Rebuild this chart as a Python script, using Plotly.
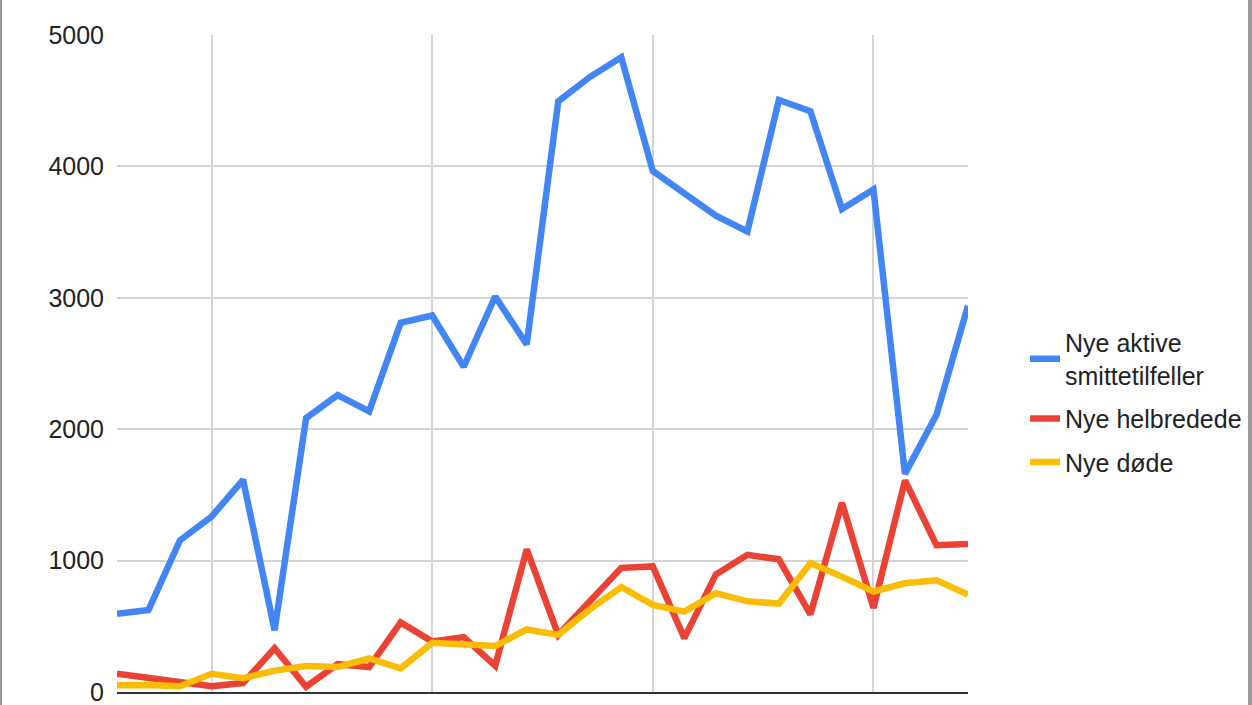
import plotly.graph_objects as go

# 28 days, the x labels are cut off in the picture so plain day labels are used
DAYS = [
    "1", "2", "3", "4", "5", "6", "7", "8", "9", "10", "11", "12", "13", "14",
    "15", "16", "17", "18", "19", "20", "21", "22", "23", "24", "25", "26", "27", "28",
]
GRID_DAYS = ["4", "11", "18", "25"]

NEW_ACTIVE = [
    595, 625, 1155, 1335, 1615, 470, 2085, 2260, 2135, 2810, 2865, 2475, 3010, 2645,
    4495, 4680, 4830, 3965, 3795, 3625, 3505, 4505, 4420, 3675, 3825, 1660, 2110, 2940,
]
NEW_RECOVERED = [
    140, 112, 72, 44, 68, 333, 40, 212, 190, 530, 384, 418, 200, 1085,
    435, 690, 945, 956, 410, 895, 1044, 1010, 590, 1440, 640, 1610, 1117, 1126,
]
NEW_DEAD = [
    51, 54, 44, 139, 105, 163, 197, 190, 255, 180, 374, 357, 350, 476,
    435, 629, 799, 663, 612, 752, 690, 673, 980, 878, 765, 827, 850, 741,
]

SERIES = [
    ("Nye aktive<br>smittetilfeller", NEW_ACTIVE, "#4285F4"),
    ("Nye helbredede", NEW_RECOVERED, "#EA4335"),
    ("Nye døde", NEW_DEAD, "#FBBC04"),
]

fig = go.Figure()
for i, (name, values, color) in enumerate(SERIES):
    fig.add_trace(
        go.Scatter(
            x=DAYS,
            y=values,
            mode="lines",
            name=name,
            legendgroup=f"g{i}",
            line=dict(color=color, width=6.5),
        )
    )

# thin grey frame on the left and right edge of the picture
for x0, x1 in [(-117 / 851, -115 / 851), (1131 / 851, 1135 / 851)]:
    fig.add_shape(
        type="rect", xref="paper", yref="paper",
        x0=x0, x1=x1, y0=-13 / 657, y1=35 / 657 + 1,
        fillcolor="#999999", line_width=0, layer="above",
    )

fig.update_layout(
    width=1252,
    height=705,
    # keep the plot area fixed, the legend must not push the right margin
    margin=dict(l=117, r=284, t=35, b=13, autoexpand=False),
    paper_bgcolor="white",
    plot_bgcolor="white",
    font=dict(family="Arial, Liberation Sans, sans-serif", size=25, color="#222222"),
    showlegend=True,
    legend=dict(
        x=1.067,
        xanchor="left",
        y=0.441,
        yanchor="middle",
        traceorder="grouped",
        tracegroupgap=8,
        font=dict(size=25, color="#222222"),
        itemwidth=30,
    ),
)
fig.update_xaxes(
    type="category",
    range=[0, 27],
    tickvals=GRID_DAYS,
    showticklabels=False,
    showgrid=True,
    gridcolor="#d4d4d4",
    gridwidth=1.5,
    showline=True,
    linecolor="#333333",
    linewidth=2,
    ticks="",
)
fig.update_yaxes(
    range=[0, 5000],
    tickvals=[0, 1000, 2000, 3000, 4000, 5000],
    tickformat="d",
    showgrid=True,
    gridcolor="#d4d4d4",
    gridwidth=1.5,
    zeroline=False,
    ticks="",
    ticklabelstandoff=12,
    ticklabeloverflow="allow",
    tickfont=dict(size=25, color="#222222"),
)

# drop the default body margin and scrollbars so the chart sits at the corner
fig.write_html(
    "out.html",
    config={"responsive": False, "displayModeBar": False},
    post_script="document.body.style.margin='0';document.body.style.overflow='hidden';",
)
